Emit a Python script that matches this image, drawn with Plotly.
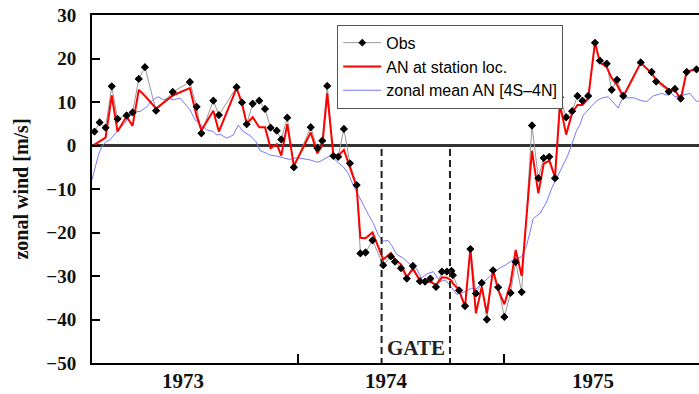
import plotly.graph_objects as go

# ---- data (decimal years, m/s) ----
obs_t = [1973.012, 1973.037, 1973.066, 1973.096, 1973.124, 1973.168, 1973.197, 1973.227, 1973.257, 1973.311,
         1973.392, 1973.475, 1973.508, 1973.531, 1973.589, 1973.616, 1973.702, 1973.728, 1973.751, 1973.780,
         1973.812, 1973.840, 1973.867, 1973.897, 1973.919, 1973.948, 1973.980, 1974.062, 1974.094, 1974.118,
         1974.142, 1974.172, 1974.195, 1974.223, 1974.252, 1974.285, 1974.303, 1974.328, 1974.362, 1974.414,
         1974.451, 1974.471, 1974.500, 1974.528, 1974.558, 1974.592, 1974.617, 1974.643, 1974.670, 1974.699,
         1974.723, 1974.745, 1974.752, 1974.782, 1974.811, 1974.837, 1974.864, 1974.892, 1974.917, 1974.947,
         1974.972, 1975.002, 1975.032, 1975.057, 1975.086, 1975.136, 1975.167, 1975.193, 1975.220, 1975.248,
         1975.272, 1975.302, 1975.331, 1975.357, 1975.381, 1975.409, 1975.442, 1975.466, 1975.499, 1975.523,
         1975.549, 1975.579, 1975.664, 1975.717, 1975.739, 1975.800, 1975.830, 1975.858, 1975.887, 1975.935]
obs_u = [3.2, 5.3, 4.1, 13.6, 6.1, 6.9, 7.6, 15.3, 18.0, 8.0,
         12.3, 14.6, 8.9, 2.8, 10.3, 7.0, 13.4, 9.9, 4.9, 9.6,
         10.3, 8.4, 4.1, 3.4, 1.4, 6.4, -5.0, 4.2, -0.6, 1.1,
         13.7, -2.4, -2.6, 3.8, -4.1, -9.1, -24.8, -24.6, -21.8, -27.5,
         -25.5, -26.7, -28.2, -30.6, -27.7, -31.2, -31.3, -30.6, -32.5, -29.0,
         -29.0, -28.8, -29.8, -33.3, -36.9, -23.8, -34.0, -31.6, -40.0, -28.7,
         -32.6, -39.4, -33.9, -26.8, -33.7, 4.6, -7.5, -2.9, -2.6, -7.5,
         11.1, 6.5, 7.9, 11.4, 10.3, 11.4, 23.6, 19.5, 18.8, 12.8,
         15.1, 11.4, 19.1, 16.9, 14.7, 12.4, 13.0, 10.8, 16.9, 17.5]
an_u = [0.2, 1.0, 1.8, 11.5, 3.2, 6.7, 4.5, 12.8, 11.4, 8.5,
        11.5, 13.2, 6.8, 3.5, 8.0, 3.2, 13.2, 9.7, 5.0, 6.5,
        4.2, 4.2, -0.6, 0.3, -2.3, 4.9, -4.7, 3.0, -1.8, 0.0,
        12.0, -2.3, -2.4, -1.0, -4.9, -9.5, -21.2, -21.3, -20.0, -26.2,
        -24.7, -26.2, -27.3, -30.2, -28.4, -31.0, -31.3, -31.3, -32.1, -30.3,
        -30.4, -31.0, -31.7, -33.2, -37.1, -23.6, -38.6, -32.5, -38.6, -28.6,
        -33.2, -36.5, -31.7, -24.0, -30.0, -1.2, -11.0, -4.2, -3.5, -7.2,
        9.5, 2.5, 7.5, 9.3, 9.3, 10.8, 23.7, 19.1, 18.0, 15.5,
        13.9, 11.2, 19.0, 16.6, 15.1, 12.8, 12.8, 10.5, 17.0, 17.6]

zm_t = [1973.000, 1973.015, 1973.031, 1973.047, 1973.068, 1973.087, 1973.112, 1973.136, 1973.160, 1973.184,
        1973.209, 1973.233, 1973.266, 1973.295, 1973.322, 1973.346, 1973.370, 1973.395, 1973.427, 1973.451,
        1973.476, 1973.500, 1973.524, 1973.557, 1973.589, 1973.605, 1973.621, 1973.654, 1973.686, 1973.710,
        1973.734, 1973.770, 1973.796, 1973.816, 1973.848, 1973.864, 1973.893, 1973.929, 1973.961, 1973.994,
        1974.024, 1974.058, 1974.091, 1974.107, 1974.131, 1974.164, 1974.188, 1974.220, 1974.244, 1974.268,
        1974.293, 1974.317, 1974.341, 1974.366, 1974.390, 1974.414, 1974.437, 1974.455, 1974.479, 1974.511,
        1974.544, 1974.576, 1974.600, 1974.626, 1974.657, 1974.689, 1974.714, 1974.738, 1974.770, 1974.786,
        1974.811, 1974.843, 1974.864, 1974.892, 1974.932, 1974.972, 1975.013, 1975.045, 1975.086, 1975.110,
        1975.126, 1975.142, 1975.175, 1975.207, 1975.232, 1975.256, 1975.280, 1975.307, 1975.320, 1975.336,
        1975.353, 1975.369, 1975.385, 1975.417, 1975.450, 1975.474, 1975.506, 1975.529, 1975.555, 1975.571,
        1975.587, 1975.628, 1975.668, 1975.693, 1975.725, 1975.766, 1975.790, 1975.814, 1975.830, 1975.863,
        1975.903, 1975.935, 1975.960]
zm_u = [-7.9, -5.2, -2.2, -0.3, 0.9, 1.3, 2.8, 4.0, 5.1, 7.0,
        7.8, 7.8, 8.9, 10.5, 11.2, 10.5, 10.9, 10.5, 10.9, 9.7,
        8.2, 5.9, 5.0, 3.6, 3.2, 2.4, 2.6, 1.7, 2.4, 4.7,
        3.2, 2.2, 0.9, -1.2, -1.8, -2.2, -2.4, -2.9, -3.2, -2.8,
        -3.0, -3.3, -3.8, -3.7, -3.0, -2.2, -3.7, -4.9, -6.4, -9.1,
        -11.4, -13.7, -15.8, -17.9, -20.6, -22.0, -21.8, -23.0, -25.0, -25.9,
        -27.3, -28.3, -30.5, -29.5, -29.0, -31.3, -30.9, -32.1, -34.2, -34.0,
        -33.6, -32.8, -33.0, -31.8, -30.2, -28.4, -27.3, -26.3, -25.6, -23.0,
        -20.0, -16.8, -15.6, -13.0, -9.8, -7.5, -5.5, -2.6, -1.0, 1.3,
        3.5, 4.8, 7.0, 8.6, 10.3, 10.9, 11.2, 10.0, 8.6, 10.5,
        10.9, 11.0, 10.3, 10.1, 11.4, 12.0, 11.6, 12.0, 11.2, 11.5,
        12.0, 10.1, 10.5]

year_labels = ["1973", "1974", "1975"]
year_label_pos = [1973.44, 1974.43, 1975.43]
year_bounds = [1974.0, 1975.0]
gate_start, gate_end = 1974.406, 1974.738
y_ticks = [-50, -40, -30, -20, -10, 0, 10, 20, 30]

serif = "Liberation Serif, Times New Roman, serif"
sans = "Liberation Sans, Arial, sans-serif"

fig = go.Figure()

fig.add_trace(go.Scatter(x=zm_t, y=zm_u, mode="lines", name="zonal mean AN [4S\u20134N]",
                         line=dict(color="#7878ff", width=1), legendrank=3))
fig.add_trace(go.Scatter(x=obs_t, y=obs_u, mode="lines+markers", name="Obs",
                         line=dict(color="#999999", width=1),
                         marker=dict(symbol="diamond", size=6, color="black"), legendrank=1))
fig.add_trace(go.Scatter(x=obs_t, y=an_u, mode="lines", name="AN at station loc.",
                         line=dict(color="#ff0000", width=2), legendrank=2))
fig.add_trace(go.Scatter(x=obs_t, y=obs_u, mode="markers", showlegend=False,
                         marker=dict(symbol="diamond", size=6, color="black")))

for gx in (gate_start, gate_end):
    fig.add_trace(go.Scatter(x=[gx, gx], y=[-0.8, -50], mode="lines", showlegend=False,
                             line=dict(color="#222222", width=2, dash="7px,4px")))

fig.add_annotation(x=(gate_start + gate_end) / 2, y=-46.6, text="GATE", showarrow=False,
                   font=dict(family=serif, size=21, color="#222", weight="bold"))

for lab, pos in zip(year_labels, year_label_pos):
    fig.add_annotation(x=pos, y=0, yref="paper", yanchor="top", yshift=-4, text=lab, showarrow=False,
                       font=dict(family=serif, size=21, color="#111", weight="bold"))

fig.update_layout(
    width=699, height=394,
    margin=dict(l=92, r=0, t=15, b=31),
    plot_bgcolor="white", paper_bgcolor="white",
    showlegend=True,
    legend=dict(x=0.404, y=0.972, xanchor="left", yanchor="top",
                bgcolor="white", bordercolor="#555", borderwidth=1,
                font=dict(family=sans, size=16, color="black"),
                itemwidth=38, tracegroupgap=0),
)
fig.update_xaxes(range=[1973.0, 1975.947], showgrid=False, zeroline=False,
                 showline=True, linecolor="black", linewidth=2, mirror=True,
                 tickvals=year_bounds, ticks="inside", ticklen=9, tickwidth=2, tickcolor="black",
                 showticklabels=False)
fig.update_yaxes(range=[-50, 30], showgrid=False, tickvals=y_ticks,
                 zeroline=True, zerolinecolor="#333", zerolinewidth=2.5,
                 showline=True, linecolor="black", linewidth=2, mirror=False,
                 ticks="inside", ticklen=8, tickwidth=2, tickcolor="black",
                 ticklabelstandoff=10,
                 tickfont=dict(family=serif, size=19, color="#111", weight="bold"),
                 title=dict(text="zonal wind [m/s]", standoff=12,
                            font=dict(family=serif, size=20, color="#111", weight="bold")))

fig.write_html("out.html")
